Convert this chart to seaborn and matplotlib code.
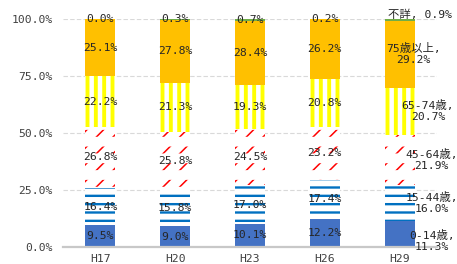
import matplotlib
matplotlib.use("Agg")
import matplotlib.pyplot as plt
import seaborn as sns
import numpy as np
import pandas as pd

categories = ["H17", "H20", "H23", "H26", "H29"]
age_0_14 = [9.5, 9.0, 10.1, 12.2, 11.3]
age_15_44 = [16.4, 15.8, 17.0, 17.4, 16.0]
age_45_64 = [26.8, 25.8, 24.5, 23.2, 21.9]
age_65_74 = [22.2, 21.3, 19.3, 20.8, 20.7]
age_75_up = [25.1, 27.8, 28.4, 26.2, 29.2]
unknown = [0.0, 0.3, 0.7, 0.2, 0.9]
series_names = ["0-14歳", "15-44歳", "45-64歳", "65-74歳", "75歳以上", "不詳"]
yticks = [0, 25, 50, 75, 100]

series = [age_0_14, age_15_44, age_45_64, age_65_74, age_75_up, unknown]
# style: facecolor, hatch colour, hatch, hatch linewidth, (overlay hatch colour, hatch, lw)
styles = [
    ("#4472C4", "#4472C4", None, 0, None),
    ("white", "#0070C0", "--", 1.7, None),
    ("white", "#FF0000", "//", 1.1, ("white", "-", 7.0)),
    ("white", "#FFFF00", "||", 2.8, None),
    ("#FFC000", "#FFC000", None, 0, None),
    ("#70AD47", "#70AD47", None, 0, None),
]

sns.set_theme(style="white")
FONT = ["DejaVu Sans Mono", "Noto Sans CJK JP"]
plt.rcParams["font.family"] = FONT

fig = plt.figure(figsize=(4.57, 2.64), dpi=100)
ax = fig.add_axes([63 / 457, 17 / 264, 374 / 457, 228 / 264])


def draw_layer(vals, fc, hc, hatch, hlw):
    df = pd.DataFrame({"cat": categories, "val": vals})
    with plt.rc_context({"hatch.linewidth": hlw if hlw else 1.0}):
        n_before = len(ax.patches)
        sns.barplot(data=df, x="cat", y="val", ax=ax, width=0.4,
                    color=fc if fc != "none" else "white", saturation=1,
                    linewidth=0, edgecolor=hc, hatch=hatch, errorbar=None)
        for p in ax.patches[n_before:]:
            p.set_facecolor(fc)
            p.set_edgecolor(hc)
            p.set_linewidth(0)
            if hasattr(p, "set_hatch_linewidth") and hlw:
                p.set_hatch_linewidth(hlw)


cum = np.cumsum(np.array(series), axis=0)
# draw from top of stack down so lower segments overlay
for i in range(len(series) - 1, -1, -1):
    fc, hc, hatch, hlw, overlay = styles[i]
    draw_layer(cum[i], fc, hc, hatch, hlw)
    if overlay is not None:
        oc, oh, olw = overlay
        draw_layer(cum[i], "none", oc, oh, olw)

ax.set_ylim(0, 100)
ax.set_xlim(-0.5, len(categories) - 0.5)
ax.set_yticks(yticks)
ax.set_yticklabels([f"{t:.1f}%" for t in yticks], fontsize=8.2, color="#404040")
ax.set_xticks(range(len(categories)))
ax.set_xticklabels(categories, fontsize=8.2, color="#404040")
ax.tick_params(axis="x", length=0, pad=5)
ax.tick_params(axis="y", length=0, pad=7.5)
ax.set_xlabel("")
ax.set_ylabel("")
for t in yticks[1:]:
    ax.axhline(t, color="#D9D9D9", lw=0.8, ls=(0, (4, 2)), zorder=0)
for s in ["top", "right", "left"]:
    ax.spines[s].set_visible(False)
ax.spines["bottom"].set_color("#C8C8C8")
ax.spines["bottom"].set_linewidth(1.6)

# data labels
last = len(categories) - 1
right_x = [last + 0.43, last + 0.43, last + 0.43, last + 0.38, last + 0.19]
for i, vals in enumerate(series):
    for j, v in enumerate(vals):
        y = cum[i][j] - v / 2
        if j == last:
            if i == len(series) - 1:
                ax.text(last + 0.27, 102, f"{series_names[i]}, {v:.1f}%",
                        ha="center", va="center", fontsize=8.2, color="#262626",
                        clip_on=False)
            else:
                yy = y - 3 if i == 0 else y
                ax.text(right_x[i], yy, f"{series_names[i]},\n{v:.1f}%",
                        ha="center", va="center", fontsize=8.2, color="#262626",
                        linespacing=1.15, clip_on=False)
        else:
            ax.text(j, y, f"{v:.1f}%", ha="center", va="center",
                    fontsize=8.2, color="#262626", clip_on=False)

fig.savefig("out.png", dpi=100)
